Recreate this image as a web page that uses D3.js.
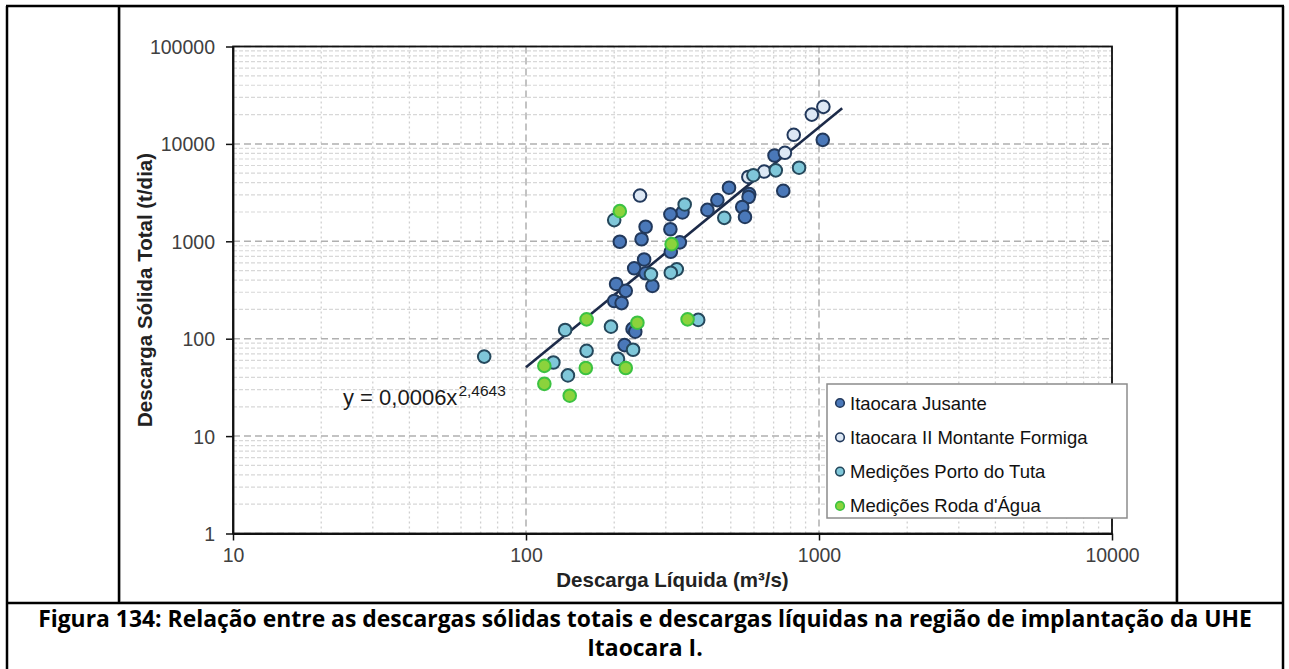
<!DOCTYPE html>
<html>
<head>
<meta charset="utf-8">
<script src="https://cdnjs.cloudflare.com/ajax/libs/d3/7.8.5/d3.min.js"></script>
<style>
body{margin:0;background:#fff}
text{font-family:"Liberation Sans",Arial,sans-serif}
</style>
</head>
<body>
<div id="chart"></div>
<script>

// Descarga liquida (m3/s) x descarga solida total (t/dia)
let jusanteQ  = [1030, 705, 755, 493, 578, 575, 450, 416, 547, 559, 342, 311, 311, 256, 248, 209, 335, 312, 253, 234, 256, 203, 219, 270, 200, 212, 231, 236, 217]
let jusanteQs = [11000, 7600, 3300, 3550, 3050, 2850, 2650, 2100, 2250, 1780, 1980, 1890, 1330, 1410, 1050, 990, 975, 780, 650, 528, 470, 365, 310, 348, 244, 232, 126, 118, 86]

let formigaQ  = [1035, 945, 820, 765, 650, 574, 245]
let formigaQs = [24000, 20000, 12400, 8100, 5200, 4580, 2950]

let tutaQ  = [855, 712, 597, 475, 348, 200, 267, 327, 312, 195, 136, 387, 232, 161, 206, 124, 139, 72]
let tutaQs = [5700, 5350, 4770, 1740, 2390, 1650, 458, 515, 476, 133, 123, 156, 77, 75, 62, 57, 42, 65.5]

let rodaQ  = [209, 314, 161, 240, 356, 115.5, 160, 219, 115.5, 141]
let rodaQs = [2040, 935, 158, 146, 158, 52.6, 50, 50, 34.4, 26]

let seriesNames = ['Itaocara Jusante', 'Itaocara II Montante Formiga', 'Medições Porto do Tuta', 'Medições Roda d\'Água']

let xTicks = [10, 100, 1000, 10000]
let yTicks = [1, 10, 100, 1000, 10000, 100000]

// power trend y = a x^b
let trendA = 0.0006
let trendB = 2.4643
let trendRange = [100, 1200]

let captionLines = [
    'Figura 134: Relação entre as descargas sólidas totais e descargas líquidas na região de implantação da UHE',
    'Itaocara I.'
]

let W = 1289, H = 669

let svg = d3.select('#chart').append('svg')
    .attr('width', W)
    .attr('height', H)

svg.append('rect').attr('width', W).attr('height', H).attr('fill', '#fff')

// chart area border (excel)
svg.append('rect')
    .attr('x', 120.5).attr('y', 7.5)
    .attr('width', 1055).attr('height', 594)
    .attr('fill', 'none')
    .attr('stroke', '#d9d9d9')

let plot = {left: 233, right: 1112, top: 46.5, bottom: 533.5}

let x = d3.scaleLog().domain([10, 10000]).range([plot.left, plot.right])
let y = d3.scaleLog().domain([1, 100000]).range([plot.bottom, plot.top])

let g = svg.append('g')

// minor grid
let minorX = [], minorY = []
xTicks.slice(0, -1).forEach(function(d){ for(let k = 2; k < 10; k++) minorX.push(d * k) })
yTicks.slice(0, -1).forEach(function(d){ for(let k = 2; k < 10; k++) minorY.push(d * k) })

g.selectAll('.minorx').data(minorX).enter().append('line')
    .attr('x1', d => x(d)).attr('x2', d => x(d))
    .attr('y1', plot.top).attr('y2', plot.bottom)
    .attr('stroke', '#d0d0d0').attr('stroke-width', 1.3)
    .attr('stroke-dasharray', '2,3')

g.selectAll('.minory').data(minorY).enter().append('line')
    .attr('x1', plot.left).attr('x2', plot.right)
    .attr('y1', d => y(d)).attr('y2', d => y(d))
    .attr('stroke', '#d8d8d8').attr('stroke-width', 1.2)
    .attr('stroke-dasharray', '4,2')

// major grid
g.selectAll('.majorx').data(xTicks).enter().append('line')
    .attr('x1', d => x(d)).attr('x2', d => x(d))
    .attr('y1', plot.top).attr('y2', plot.bottom)
    .attr('stroke', '#b0b0b0').attr('stroke-width', 1.5)
    .attr('stroke-dasharray', '7,4')

g.selectAll('.majory').data(yTicks).enter().append('line')
    .attr('x1', plot.left).attr('x2', plot.right)
    .attr('y1', d => y(d)).attr('y2', d => y(d))
    .attr('stroke', '#b0b0b0').attr('stroke-width', 1.5)
    .attr('stroke-dasharray', '7,4')

// plot border
g.append('rect')
    .attr('x', plot.left).attr('y', plot.top)
    .attr('width', plot.right - plot.left).attr('height', plot.bottom - plot.top)
    .attr('fill', 'none').attr('stroke', '#111').attr('stroke-width', 1.8)

// axes
let xAxis = g.append('g')
    .attr('transform', 'translate(0,' + plot.bottom + ')')
    .call(d3.axisBottom(x).tickValues(xTicks).tickFormat(d3.format('d')).tickSizeInner(7).tickSizeOuter(0).tickPadding(8))

let yAxis = g.append('g')
    .attr('transform', 'translate(' + plot.left + ',0)')
    .call(d3.axisLeft(y).tickValues(yTicks).tickFormat(d3.format('d')).tickSizeInner(7).tickSizeOuter(0).tickPadding(11))

svg.selectAll('.domain').attr('stroke', '#111').attr('stroke-width', 1.8)
svg.selectAll('.tick line').attr('stroke', '#111').attr('stroke-width', 1.5)
svg.selectAll('.tick text')
    .attr('fill', '#404040')
    .style('font-size', '19.5px')
    .style('font-family', '"Liberation Sans", Arial, sans-serif')
yAxis.selectAll('.tick text').attr('dy', '0.36em')

// trend line
let trendData = trendRange.map(d => ({q: d, qs: trendA * Math.pow(d, trendB)}))
g.append('path')
    .datum(trendData)
    .attr('fill', 'none')
    .attr('stroke', '#1c2a48')
    .attr('stroke-width', 2.6)
    .attr('d', d3.line().x(d => x(d.q)).y(d => y(d.qs)))

// points
let styles = [
    {fill: '#4a78b9', stroke: '#22395c'},
    {fill: '#dde8f5', stroke: '#22395c'},
    {fill: '#7fc7d9', stroke: '#25485c'},
    {fill: '#8bd33c', stroke: '#3cc242'}
]

let series = [
    {q: jusanteQ, qs: jusanteQs},
    {q: formigaQ, qs: formigaQs},
    {q: tutaQ, qs: tutaQs},
    {q: rodaQ, qs: rodaQs}
]

series.forEach(function(s, i){
    let pts = s.q.map((d, j) => ({q: d, qs: s.qs[j]}))
    g.append('g').selectAll('circle').data(pts).enter().append('circle')
        .attr('cx', d => x(d.q))
        .attr('cy', d => y(d.qs))
        .attr('r', 6.3)
        .attr('fill', styles[i].fill)
        .attr('stroke', styles[i].stroke)
        .attr('stroke-width', 2)
})

// equation
let eq = svg.append('text')
    .attr('x', 343)
    .attr('y', 405)
    .attr('fill', '#1a1a1a')
    .style('font-size', '22px')
eq.append('tspan').text('y = 0,0006x')
eq.append('tspan').text('2,4643').attr('dy', -9).attr('dx', 1).style('font-size', '15.5px')

// legend
let legend = svg.append('g')
legend.append('rect')
    .attr('x', 827).attr('y', 384)
    .attr('width', 300).attr('height', 134)
    .attr('fill', '#fff')
    .attr('stroke', '#8c8c8c')
    .attr('stroke-width', 1.5)

seriesNames.forEach(function(name, i){
    let cy = 403 + i * 34.3
    legend.append('circle')
        .attr('cx', 840).attr('cy', cy).attr('r', 4.3)
        .attr('fill', styles[i].fill)
        .attr('stroke', styles[i].stroke)
        .attr('stroke-width', 1.6)
    legend.append('text')
        .attr('x', 850).attr('y', cy + 6.5)
        .attr('fill', '#111')
        .style('font-size', '18.5px')
        .text(name)
})

// axis titles
svg.append('text')
    .attr('x', (plot.left + plot.right) / 2)
    .attr('y', 587)
    .attr('text-anchor', 'middle')
    .attr('fill', '#222')
    .style('font-size', '20.5px')
    .style('font-weight', 'bold')
    .text('Descarga Líquida (m³/s)')

svg.append('text')
    .attr('transform', 'translate(152,' + (plot.top + plot.bottom) / 2 + ') rotate(-90)')
    .attr('text-anchor', 'middle')
    .attr('fill', '#222')
    .style('font-size', '20.5px')
    .style('font-weight', 'bold')
    .text('Descarga Sólida Total (t/dia)')

// table borders
let borders = [
    [6, 6, 1284, 6],
    [7, 6, 7, 669],
    [1283, 6, 1283, 669],
    [119, 6, 119, 603],
    [1177, 6, 1177, 603],
    [7, 603, 1283, 603]
]
svg.append('g').selectAll('line').data(borders).enter().append('line')
    .attr('x1', d => d[0]).attr('y1', d => d[1])
    .attr('x2', d => d[2]).attr('y2', d => d[3])
    .attr('stroke', '#000')
    .attr('stroke-width', 2.5)

// caption
captionLines.forEach(function(t, i){
    svg.append('text')
        .attr('x', 645)
        .attr('y', 627 + i * 29)
        .attr('text-anchor', 'middle')
        .attr('fill', '#000')
        .style('font-family', '"Open Sans", sans-serif')
        .style('font-weight', 'bold')
        .style('font-size', '22.9px')
        .text(t)
})

</script>
</body>
</html>
